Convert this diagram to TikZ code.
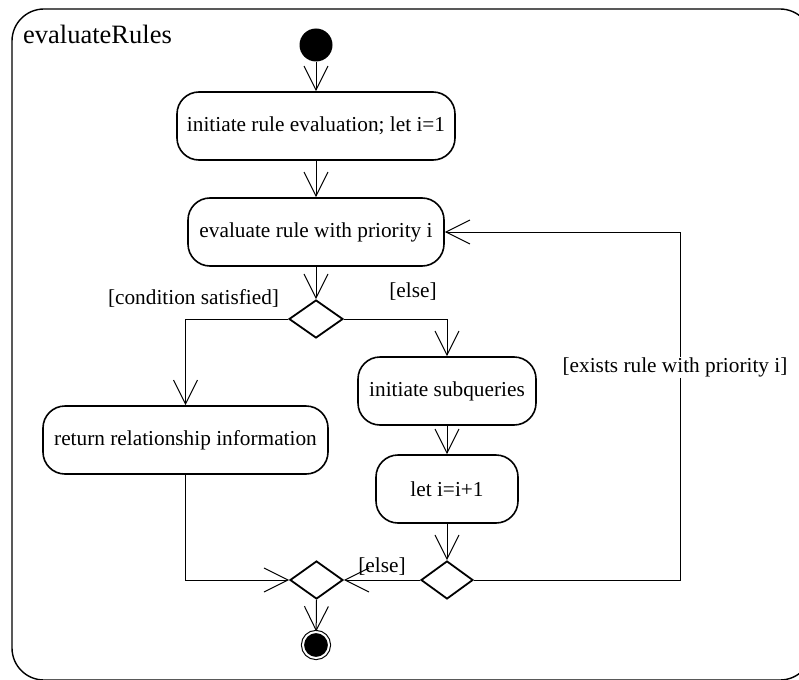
\documentclass[tikz,border=0pt]{standalone}
\usepackage{fontspec}
\setmainfont{Liberation Serif}
\usetikzlibrary{arrows.meta,shapes.geometric}
\begin{document}
\begin{tikzpicture}[x=1pt,y=-1pt,
  every node/.style={font=\fontsize{21.3}{25}\selectfont},
  action/.style={draw, line width=1.6pt, rounded corners=22pt,
    minimum height=68pt, inner sep=0pt},
  choice/.style={draw, diamond, line width=1.8pt, minimum width=54pt,
    minimum height=38pt, inner sep=0pt},
  flow/.style={line width=1pt, -{Straight Barb[length=24pt,width=24pt]}},
  guard/.style={inner sep=1pt}]
\useasboundingbox (0,0) rectangle (799,679);
\clip (0,0) rectangle (799,679);

% activity frame and its name
\draw[line width=1.4pt, rounded corners=32pt] (12,9) rectangle (812,680);
\node (title) [anchor=base west, inner sep=0pt,
  font=\fontsize{26.5}{30}\selectfont] at (23,44) {evaluateRules};

% initial and final states
\node (start) [circle, fill=black, minimum size=33pt, inner sep=0pt] at (316,45) {};
\node (stop) [circle, fill=black, draw=black, line width=1.1pt, double=white,
  double distance=2pt, minimum size=26pt, inner sep=0pt] at (316,645) {};

% actions
\node (init)   [action, minimum width=278pt] at (316,126) {initiate rule evaluation; let i=1};
\node (eval)   [action, minimum width=256pt] at (316,232) {evaluate rule with priority i};
\node (ret)    [action, minimum width=285pt] at (185.5,440) {return relationship information};
\node (subq)   [action, minimum width=178pt] at (447,391) {initiate subqueries};
\node (incr)   [action, minimum width=142pt] at (447,489) {let i=i+1};

% decisions and merge
\node (cond)  [choice] at (316,319) {};
\node (more)  [choice, minimum width=52pt] at (447,580) {};
\node (merge) [choice, minimum width=53pt] at (316.5,580) {};

\coordinate (loopcorner) at (680,580);

% control flow
\draw[flow] (start) -- (init);
\draw[flow] (init) -- (eval);
\draw[flow] (eval) -- (cond.north);
\draw[flow] (cond.west) -| (ret.north);
\draw[flow] (cond.east) -| (subq.north);
\draw[flow] (subq) -- (incr);
\draw[flow] (incr) -- (more.north);
\draw[flow] (more.east) -- (loopcorner) |-
  node[pos=0.305, fill=white, guard, xshift=-5pt] {[exists rule with priority i]} (eval.east);
\draw[flow] (more.west) -- node[midway, above=3pt, guard] {[else]} (merge.east);
\draw[flow] (ret.south) |- (merge.west);
\draw[flow] (merge.south) -- (stop);

% guards on the first decision
\node (gsat)  [guard] at (193.5,298) {[condition satisfied]};
\node (gelse) [guard] at (413,292) {[else]};
\end{tikzpicture}
\end{document}
